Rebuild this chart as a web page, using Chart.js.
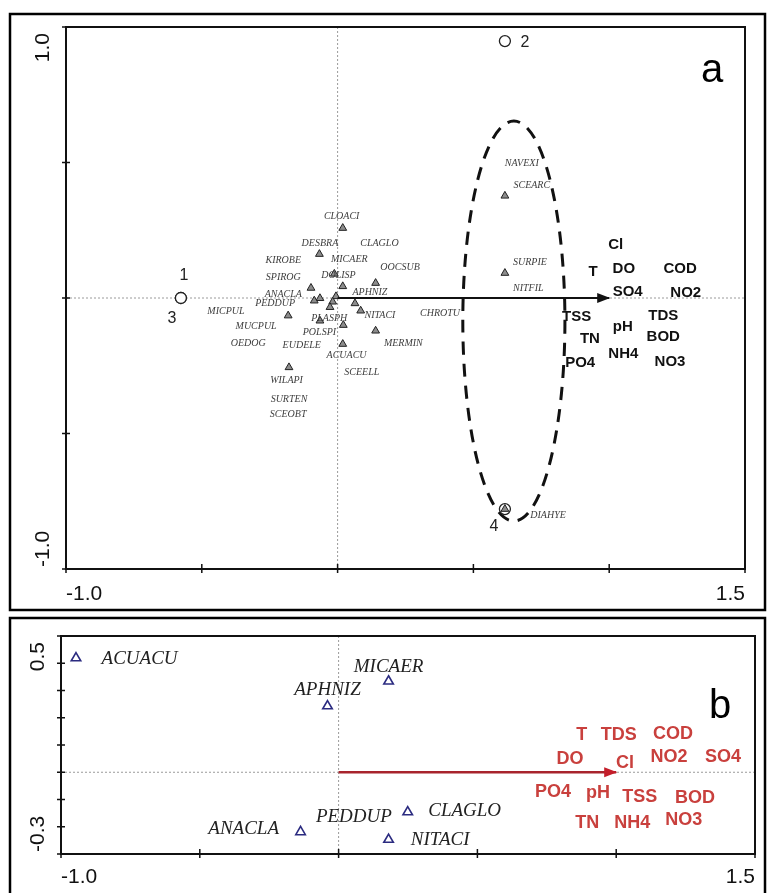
<!DOCTYPE html>
<html>
<head>
<meta charset="utf-8">
<script src="https://cdn.jsdelivr.net/npm/chart.js@4.4.1/dist/chart.umd.min.js"></script>
<style>
  body { margin: 0; background: #fff; width: 769px; height: 893px; overflow: hidden; position: relative; }
  canvas { position: absolute; left: 0; }
  #chartA { top: 0; }
  #chartB { top: 612px; }
</style>
</head>
<body>
<canvas id="chartA" width="769" height="612"></canvas>
<canvas id="chartB" width="769" height="281"></canvas>
<script>
// ---------- panel a ----------
const xTicksA = [-1.0, -0.5, 0, 0.5, 1.0, 1.5];
const yTicksA = [-1.0, -0.5, 0, 0.5, 1.0];
const xTickLabelsA = ['-1.0', '', '', '', '', '1.5'];
const yTickLabelsA = ['-1.0', '', '', '', '1.0'];

// species scores (triangles)
const speciesXA = [0.019, -0.067, -0.012, 0.019, 0.140, -0.098, -0.065, -0.086, -0.006, -0.018, -0.028,
                   0.064, 0.085, -0.182, -0.065, 0.021, 0.140, 0.019, -0.179, 0.616, 0.616, 0.616];
const speciesYA = [0.258, 0.162, 0.089, 0.043, 0.055, 0.037, -0.001, -0.010, 0.006, -0.014, -0.034,
                   -0.020, -0.047, -0.065, -0.084, -0.100, -0.121, -0.170, -0.256, 0.377, 0.092, -0.779];

// species names
const speciesNamesA = ['CLOACI', 'DESBRA', 'CLAGLO', 'KIROBE', 'MICAER', 'OOCSUB', 'SPIROG', 'DOLISP',
  'APHNIZ', 'ANACLA', 'PEDDUP', 'MICPUL', 'NITACI', 'CHROTU', 'MUCPUL', 'PLASPH', 'POLSPI', 'OEDOG',
  'EUDELE', 'MERMIN', 'ACUACU', 'SCEELL', 'WILAPI', 'SURTEN', 'SCEOBT', 'NAVEXI', 'SCEARC', 'SURPIE',
  'NITFIL', 'DIAHYE'];
const speciesNameXA = [0.015, -0.065, 0.154, -0.200, 0.043, 0.230, -0.200, 0.003, 0.119, -0.200, -0.230,
  -0.411, 0.156, 0.377, -0.300, -0.031, -0.067, -0.329, -0.132, 0.242, 0.033, 0.089, -0.188, -0.179,
  -0.182, 0.678, 0.715, 0.708, 0.702, 0.775];
const speciesNameYA = [0.301, 0.202, 0.202, 0.140, 0.144, 0.113, 0.076, 0.085, 0.021, 0.015, -0.018,
  -0.051, -0.063, -0.055, -0.106, -0.075, -0.127, -0.166, -0.176, -0.166, -0.213, -0.274, -0.305, -0.375,
  -0.428, 0.497, 0.414, 0.132, 0.036, -0.801];

// sample scores (circles)
const sampleNamesA = ['1', '2', '3', '4'];
const sampleXA = [-0.577, 0.616, -0.577, 0.616];
const sampleYA = [0, 0.948, 0, -0.779];

// environmental variables
const envNamesA = ['Cl', 'T', 'DO', 'COD', 'SO4', 'NO2', 'TSS', 'TDS', 'pH', 'TN', 'BOD', 'NH4', 'PO4', 'NO3'];
const envXA = [1.024, 0.941, 1.054, 1.261, 1.068, 1.282, 0.880, 1.199, 1.050, 0.929, 1.199, 1.052, 0.893, 1.224];
const envYA = [0.197, 0.097, 0.107, 0.107, 0.023, 0.018, -0.071, -0.065, -0.106, -0.149, -0.143, -0.207, -0.241, -0.237];
const arrowEndA = 1.0;

// group ellipse (centre and half-axes in axis units)
const ellipseA = { cx: 0.649, cy: -0.085, rx: 0.188, ry: 0.738 };

// ---------- panel b ----------
const xTicksB = [-1.0, -0.5, 0, 0.5, 1.0, 1.5];
const yTicksB = [-0.3, -0.2, -0.1, 0, 0.1, 0.2, 0.3, 0.4, 0.5];
const xTickLabelsB = ['-1.0', '', '', '', '', '1.5'];
const yTickLabelsB = ['-0.3', '', '', '', '', '', '', '', '0.5'];

const speciesNamesB = ['ACUACU', 'MICAER', 'APHNIZ', 'CLAGLO', 'ANACLA', 'NITACI', 'PEDDUP'];
const speciesXB = [-0.946, 0.180, -0.040, 0.249, -0.137, 0.180];
const speciesYB = [0.419, 0.334, 0.243, -0.146, -0.219, -0.247];
const speciesNameXB = [-0.717, 0.180, -0.040, 0.454, -0.342, 0.366, 0.055];
const speciesNameYB = [0.417, 0.386, 0.303, -0.142, -0.207, -0.247, -0.164];

const envNamesB = ['T', 'TDS', 'COD', 'DO', 'Cl', 'NO2', 'SO4', 'PO4', 'pH', 'TSS', 'BOD', 'TN', 'NH4', 'NO3'];
const envXB = [0.876, 1.009, 1.205, 0.834, 1.032, 1.190, 1.385, 0.772, 0.934, 1.085, 1.284, 0.896, 1.058, 1.243];
const envYB = [0.136, 0.136, 0.142, 0.050, 0.032, 0.056, 0.056, -0.072, -0.078, -0.091, -0.093, -0.188, -0.188, -0.176];
const arrowEndB = 1.0;

// ---------- helpers ----------
const toPoints = (xs, ys) => xs.map((x, i) => ({ x: x, y: ys[i] }));

function makeScales(xmin, xmax, ymin, ymax) {
  return {
    x: {
      type: 'linear', min: xmin, max: xmax,
      ticks: { display: false }, grid: { display: false, drawTicks: false }, border: { display: false },
      afterFit: s => { s.height = 0; }
    },
    y: {
      type: 'linear', min: ymin, max: ymax,
      ticks: { display: false }, grid: { display: false, drawTicks: false }, border: { display: false },
      afterFit: s => { s.width = 0; }
    }
  };
}

function drawText(ctx, txt, x, y, font, color, align) {
  ctx.font = font;
  ctx.fillStyle = color;
  ctx.textAlign = align || 'center';
  ctx.textBaseline = 'middle';
  ctx.fillText(txt, x, y);
}

// frame, ticks, zero lines and tick labels for one panel
function framePlugin(opt) {
  return {
    id: 'frame_' + opt.name,
    beforeDatasetsDraw(chart) {
      const { ctx, chartArea: a, scales: { x, y } } = chart;
      ctx.save();
      // outer box
      ctx.strokeStyle = '#000';
      ctx.lineWidth = 2.5;
      ctx.strokeRect(opt.outer[0], opt.outer[1], opt.outer[2], opt.outer[3]);
      // dotted zero lines
      ctx.strokeStyle = '#9a9a9a';
      ctx.lineWidth = 1;
      ctx.setLineDash([2, 2]);
      ctx.beginPath();
      ctx.moveTo(x.getPixelForValue(0), a.top);
      ctx.lineTo(x.getPixelForValue(0), a.bottom);
      ctx.moveTo(a.left, y.getPixelForValue(0));
      ctx.lineTo(a.right, y.getPixelForValue(0));
      ctx.stroke();
      ctx.setLineDash([]);
      // plot frame
      ctx.strokeStyle = '#111';
      ctx.lineWidth = 2;
      ctx.strokeRect(a.left, a.top, a.right - a.left, a.bottom - a.top);
      // tick marks
      ctx.lineWidth = 1.5;
      ctx.beginPath();
      opt.xTicks.forEach(v => {
        const px = x.getPixelForValue(v);
        ctx.moveTo(px, a.bottom - 5);
        ctx.lineTo(px, a.bottom + 4);
      });
      opt.yTicks.forEach(v => {
        const py = y.getPixelForValue(v);
        ctx.moveTo(a.left - 4, py);
        ctx.lineTo(a.left + 4, py);
      });
      ctx.stroke();
      // tick labels
      const tf = '21px "Liberation Sans", Arial, sans-serif';
      opt.xTickLabels.forEach((t, i) => {
        if (!t) return;
        const align = i === 0 ? 'left' : (i === opt.xTickLabels.length - 1 ? 'right' : 'center');
        drawText(ctx, t, x.getPixelForValue(opt.xTicks[i]), a.bottom + opt.xLabOff, tf, '#111', align);
      });
      opt.yTickLabels.forEach((t, i) => {
        if (!t) return;
        const first = i === 0;
        ctx.save();
        ctx.translate(a.left - 23, y.getPixelForValue(opt.yTicks[i]) + (first ? -2 : 6));
        ctx.rotate(-Math.PI / 2);
        drawText(ctx, t, 0, 0, tf, '#111', first ? 'left' : 'right');
        ctx.restore();
      });
      ctx.restore();
    }
  };
}

function arrowHead(ctx, x0, y0, x1, color) {
  ctx.fillStyle = color;
  ctx.beginPath();
  ctx.moveTo(x1 + 1, y0);
  ctx.lineTo(x1 - 12, y0 - 5);
  ctx.lineTo(x1 - 12, y0 + 5);
  ctx.closePath();
  ctx.fill();
}

// ---------- chart a ----------
const labelsPluginA = {
  id: 'labelsA',
  beforeDatasetsDraw(chart) {
    const { ctx, scales: { x, y } } = chart;
    ctx.save();
    ctx.strokeStyle = '#111';
    ctx.lineWidth = 3;
    ctx.setLineDash([13, 9]);
    const cx = x.getPixelForValue(ellipseA.cx), cy = y.getPixelForValue(ellipseA.cy);
    const rx = x.getPixelForValue(ellipseA.cx + ellipseA.rx) - cx;
    const ry = cy - y.getPixelForValue(ellipseA.cy + ellipseA.ry);
    ctx.beginPath();
    ctx.ellipse(cx, cy, rx, ry, 0, 0, Math.PI * 2);
    ctx.stroke();
    ctx.restore();
  },
  afterDatasetsDraw(chart) {
    const { ctx, chartArea: a, scales: { x, y } } = chart;
    ctx.save();
    arrowHead(ctx, x.getPixelForValue(0), y.getPixelForValue(0), x.getPixelForValue(arrowEndA), '#111');
    const sf = 'italic 10px "Liberation Serif", "Times New Roman", serif';
    speciesNamesA.forEach((n, i) => {
      drawText(ctx, n, x.getPixelForValue(speciesNameXA[i]), y.getPixelForValue(speciesNameYA[i]), sf, '#3e3e3e');
    });
    const ef = 'bold 15px "Liberation Sans", Arial, sans-serif';
    envNamesA.forEach((n, i) => {
      drawText(ctx, n, x.getPixelForValue(envXA[i]), y.getPixelForValue(envYA[i]), ef, '#111');
    });
    const off = [[3, -22], [20, 2], [-9, 21], [-11, 17]];
    sampleNamesA.forEach((n, i) => {
      drawText(ctx, n, x.getPixelForValue(sampleXA[i]) + off[i][0], y.getPixelForValue(sampleYA[i]) + off[i][1],
        '16px "Liberation Sans", Arial, sans-serif', '#222');
    });
    ctx.font = '40px "Liberation Sans Narrow", "Liberation Sans", sans-serif';
    ctx.fillStyle = '#000';
    ctx.textAlign = 'center';
    ctx.textBaseline = 'alphabetic';
    ctx.fillText('a', a.right - 33, a.top + 55);
    ctx.restore();
  }
};

new Chart(document.getElementById('chartA'), {
  type: 'scatter',
  data: {
    datasets: [
      {
        data: [{ x: 0, y: 0 }, { x: arrowEndA, y: 0 }],
        showLine: true, borderColor: '#111', borderWidth: 2, pointRadius: 0, order: 1
      },
      {
        data: toPoints(speciesXA, speciesYA),
        pointStyle: 'triangle', pointRadius: 4.5, backgroundColor: '#8c8c8c',
        borderColor: '#222', borderWidth: 1, order: 2
      },
      {
        data: toPoints(sampleXA, sampleYA),
        pointStyle: 'circle', pointRadius: 5.5, backgroundColor: '#fff',
        borderColor: '#222', borderWidth: 1.3, order: 3
      }
    ]
  },
  options: {
    responsive: false, animation: false,
    layout: { padding: { left: 66, right: 24, top: 27, bottom: 43 } },
    plugins: { legend: { display: false }, tooltip: { enabled: false } },
    scales: makeScales(-1.0, 1.5, -1.0, 1.0)
  },
  plugins: [framePlugin({
    name: 'a', outer: [10, 14, 755, 596], xTicks: xTicksA, yTicks: yTicksA,
    xTickLabels: xTickLabelsA, yTickLabels: yTickLabelsA, xLabOff: 25
  }), labelsPluginA]
});

// ---------- chart b ----------
const labelsPluginB = {
  id: 'labelsB',
  afterDatasetsDraw(chart) {
    const { ctx, chartArea: a, scales: { x, y } } = chart;
    ctx.save();
    arrowHead(ctx, x.getPixelForValue(0), y.getPixelForValue(0), x.getPixelForValue(arrowEndB), '#c41e2a');
    const sf = 'italic 19px "Liberation Serif", "Times New Roman", serif';
    speciesNamesB.forEach((n, i) => {
      drawText(ctx, n, x.getPixelForValue(speciesNameXB[i]), y.getPixelForValue(speciesNameYB[i]), sf, '#222');
    });
    const ef = 'bold 18px "Liberation Sans", Arial, sans-serif';
    envNamesB.forEach((n, i) => {
      drawText(ctx, n, x.getPixelForValue(envXB[i]), y.getPixelForValue(envYB[i]), ef, '#c9403d');
    });
    ctx.font = '40px "Liberation Sans Narrow", "Liberation Sans", sans-serif';
    ctx.fillStyle = '#000';
    ctx.textAlign = 'center';
    ctx.textBaseline = 'alphabetic';
    ctx.fillText('b', a.right - 35, a.top + 82);
    ctx.restore();
  }
};

new Chart(document.getElementById('chartB'), {
  type: 'scatter',
  data: {
    datasets: [
      {
        data: [{ x: 0, y: 0 }, { x: arrowEndB, y: 0 }],
        showLine: true, borderColor: '#a8242c', borderWidth: 2.5, pointRadius: 0, order: 1
      },
      {
        data: toPoints(speciesXB, speciesYB),
        pointStyle: 'triangle', pointRadius: 5.5, backgroundColor: 'rgba(0,0,0,0)',
        borderColor: '#2b2b80', borderWidth: 1.6, order: 2
      }
    ]
  },
  options: {
    responsive: false, animation: false,
    layout: { padding: { left: 61, right: 14, top: 24, bottom: 39 } },
    plugins: { legend: { display: false }, tooltip: { enabled: false } },
    scales: makeScales(-1.0, 1.5, -0.3, 0.5)
  },
  plugins: [framePlugin({
    name: 'b', outer: [10, 6, 755, 300], xTicks: xTicksB, yTicks: yTicksB,
    xTickLabels: xTickLabelsB, yTickLabels: yTickLabelsB, xLabOff: 23
  }), labelsPluginB]
});
</script>
</body>
</html>
